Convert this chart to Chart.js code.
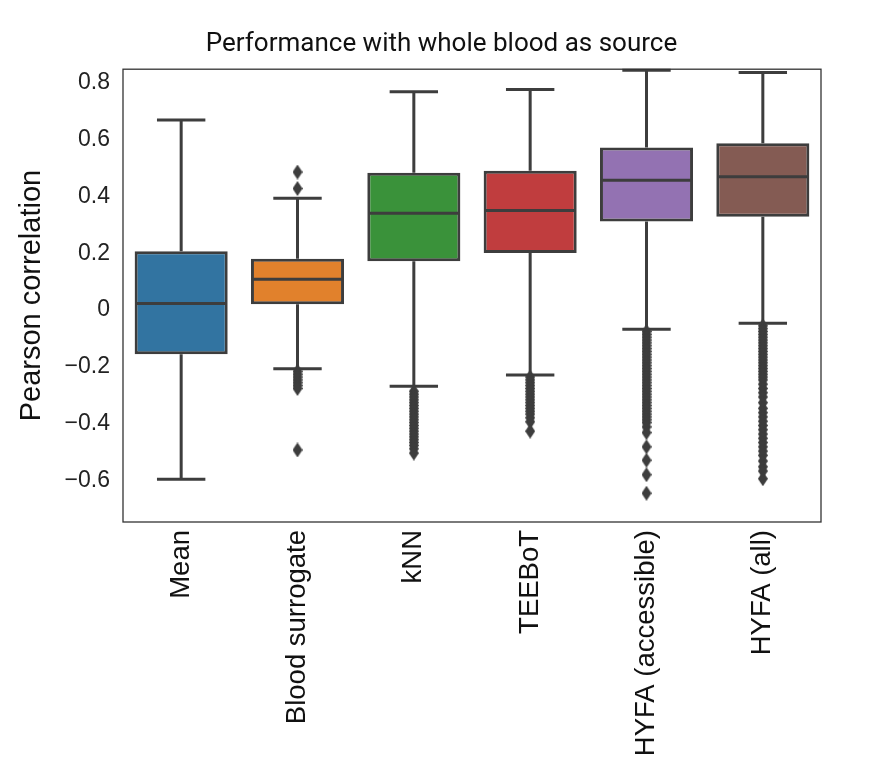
<!DOCTYPE html>
<html>
<head>
<meta charset="utf-8">
<script src="https://cdn.jsdelivr.net/npm/chart.js@4.4.0/dist/chart.umd.min.js"></script>
<style>
  html, body { margin: 0; padding: 0; background: #fff; }
  canvas { display: block; }
</style>
</head>
<body>
<canvas id="chart" width="883" height="760"></canvas>
<script>
// data
const categories = ['Mean', 'Blood surrogate', 'kNN', 'TEEBoT', 'HYFA (accessible)', 'HYFA (all)'];
const q1 = [-0.155, 0.021, 0.172, 0.201, 0.311, 0.328];
const median = [0.023, 0.108, 0.340, 0.350, 0.456, 0.468];
const q3 = [0.207, 0.180, 0.482, 0.489, 0.571, 0.586];
const whiskerLow = [-0.594, -0.206, -0.267, -0.228, -0.067, -0.046];
const whiskerHigh = [0.668, 0.393, 0.767, 0.775, 0.842, 0.834];

const outliersMean = [];
const outliersBlood = [0.485, 0.427, -0.215, -0.225, -0.235, -0.245, -0.255, -0.265, -0.275, -0.491];
const outliersKnn = [-0.285, -0.295, -0.305, -0.315, -0.325, -0.335, -0.345, -0.355, -0.365, -0.375, -0.385,
  -0.395, -0.405, -0.415, -0.425, -0.435, -0.445, -0.455, -0.465, -0.475, -0.487, -0.502];
const outliersTeebot = [-0.235, -0.245, -0.255, -0.265, -0.275, -0.285, -0.295, -0.305, -0.315, -0.325,
  -0.335, -0.345, -0.355, -0.365, -0.378, -0.392, -0.425];
const outliersHyfaAcc = [-0.075, -0.085, -0.095, -0.105, -0.115, -0.125, -0.135, -0.145, -0.155, -0.165,
  -0.175, -0.185, -0.195, -0.205, -0.215, -0.225, -0.235, -0.245, -0.255, -0.265, -0.275, -0.285, -0.295,
  -0.305, -0.315, -0.325, -0.335, -0.345, -0.355, -0.365, -0.375, -0.385, -0.395, -0.41, -0.43, -0.48,
  -0.527, -0.578, -0.643];
const outliersHyfaAll = [-0.055, -0.065, -0.075, -0.085, -0.095, -0.105, -0.115, -0.125, -0.135, -0.145,
  -0.155, -0.165, -0.175, -0.185, -0.195, -0.205, -0.215, -0.225, -0.235, -0.245, -0.26, -0.275, -0.29,
  -0.305, -0.325, -0.345, -0.36, -0.375, -0.39, -0.405, -0.42, -0.435, -0.45, -0.465, -0.48, -0.495,
  -0.51, -0.53, -0.55, -0.565, -0.592];
const outliers = [outliersMean, outliersBlood, outliersKnn, outliersTeebot, outliersHyfaAcc, outliersHyfaAll];

const tickValues = [-0.6, -0.4, -0.2, 0, 0.2, 0.4, 0.6, 0.8];

const boxColors = ['#3274a1', '#e1812c', '#3a923a', '#c03d3e', '#9372b2', '#845b53'];
const lineColor = '#3d3d3d';

// thin diamond marker, like matplotlib's 'd'
function diamondMarker(w, h, color) {
  const c = document.createElement('canvas');
  c.width = w;
  c.height = h;
  const g = c.getContext('2d');
  g.fillStyle = color;
  g.beginPath();
  g.moveTo(w / 2, 0);
  g.lineTo(w, h / 2);
  g.lineTo(w / 2, h);
  g.lineTo(0, h / 2);
  g.closePath();
  g.fill();
  return c;
}

const outlierPoints = [];
outliers.forEach((list, i) => {
  list.forEach(v => outlierPoints.push({ x: categories[i], y: v }));
});

const whiskerPlugin = {
  id: 'whiskers',
  beforeDatasetsDraw(chart) {
    const ctx = chart.ctx;
    const y = chart.scales.y;
    const bars = chart.getDatasetMeta(0).data;
    ctx.save();
    ctx.strokeStyle = lineColor;
    ctx.lineWidth = 3;
    bars.forEach((bar, i) => {
      const cap = bar.width * 0.26;
      const yHi = y.getPixelForValue(whiskerHigh[i]);
      const yLo = y.getPixelForValue(whiskerLow[i]);
      ctx.beginPath();
      ctx.moveTo(bar.x, y.getPixelForValue(q3[i]));
      ctx.lineTo(bar.x, yHi);
      ctx.moveTo(bar.x - cap, yHi);
      ctx.lineTo(bar.x + cap, yHi);
      ctx.moveTo(bar.x, y.getPixelForValue(q1[i]));
      ctx.lineTo(bar.x, yLo);
      ctx.moveTo(bar.x - cap, yLo);
      ctx.lineTo(bar.x + cap, yLo);
      ctx.stroke();
    });
    ctx.restore();
  },
  afterDatasetsDraw(chart) {
    const ctx = chart.ctx;
    const y = chart.scales.y;
    const bars = chart.getDatasetMeta(0).data;
    ctx.save();
    ctx.strokeStyle = lineColor;
    ctx.lineWidth = 3;
    bars.forEach((bar, i) => {
      const ym = y.getPixelForValue(median[i]);
      ctx.beginPath();
      ctx.moveTo(bar.x - bar.width / 2 + 2, ym);
      ctx.lineTo(bar.x + bar.width / 2 - 2, ym);
      ctx.stroke();
    });
    ctx.restore();
  }
};

const framePlugin = {
  id: 'frame',
  afterDraw(chart) {
    const a = chart.chartArea;
    const ctx = chart.ctx;
    ctx.save();
    ctx.strokeStyle = '#333';
    ctx.lineWidth = 1.3;
    ctx.strokeRect(a.left, a.top, a.right - a.left, a.bottom - a.top);
    ctx.restore();
  }
};

new Chart(document.getElementById('chart'), {
  type: 'bar',
  data: {
    labels: categories,
    datasets: [
      {
        type: 'bar',
        data: categories.map((c, i) => [q1[i], q3[i]]),
        backgroundColor: boxColors,
        borderColor: lineColor,
        borderWidth: 3,
        borderSkipped: false,
        barPercentage: 0.8,
        categoryPercentage: 1,
        order: 2
      },
      {
        type: 'scatter',
        data: outlierPoints,
        pointStyle: diamondMarker(10, 15, lineColor),
        pointRadius: 5,
        pointHoverRadius: 5,
        order: 1
      }
    ]
  },
  options: {
    responsive: false,
    animation: false,
    devicePixelRatio: 1,
    layout: { padding: 0 },
    plugins: {
      legend: { display: false },
      tooltip: { enabled: false },
      title: {
        display: true,
        text: 'Performance with whole blood as source',
        color: '#111',
        font: { family: 'Roboto', size: 26, weight: 'normal' },
        padding: { top: 29, bottom: 9 }
      }
    },
    scales: {
      x: {
        type: 'category',
        offset: true,
        grid: { display: false, drawTicks: false },
        border: { display: false },
        ticks: {
          color: '#111',
          font: { family: 'Liberation Sans', size: 27.5 },
          minRotation: 90,
          maxRotation: 90,
          autoSkip: false,
          padding: 8
        },
        afterFit(scale) { scale.height = 238; }
      },
      y: {
        type: 'linear',
        min: -0.744,
        max: 0.846,
        grid: { display: false, drawTicks: false },
        border: { display: false },
        afterBuildTicks(scale) { scale.ticks = tickValues.map(v => ({ value: v })); },
        ticks: {
          color: '#222',
          font: { family: 'Liberation Sans', size: 23 },
          padding: 13,
          callback: v => (v === 0 ? '0' : v.toFixed(1).replace('-', '\u2212'))
        },
        title: {
          display: true,
          text: 'Pearson correlation',
          color: '#111',
          font: { family: 'Liberation Sans', size: 29 },
          padding: { top: 15, bottom: 0 }
        },
        afterFit(scale) { scale.width = 123; }
      },
      // empty right-hand axis that only reserves the margin right of the frame
      yRight: {
        type: 'linear',
        position: 'right',
        display: true,
        grid: { display: false, drawTicks: false },
        border: { display: false },
        ticks: { display: false },
        afterFit(scale) { scale.width = 62; }
      }
    }
  },
  plugins: [whiskerPlugin, framePlugin]
});
</script>
</body>
</html>
